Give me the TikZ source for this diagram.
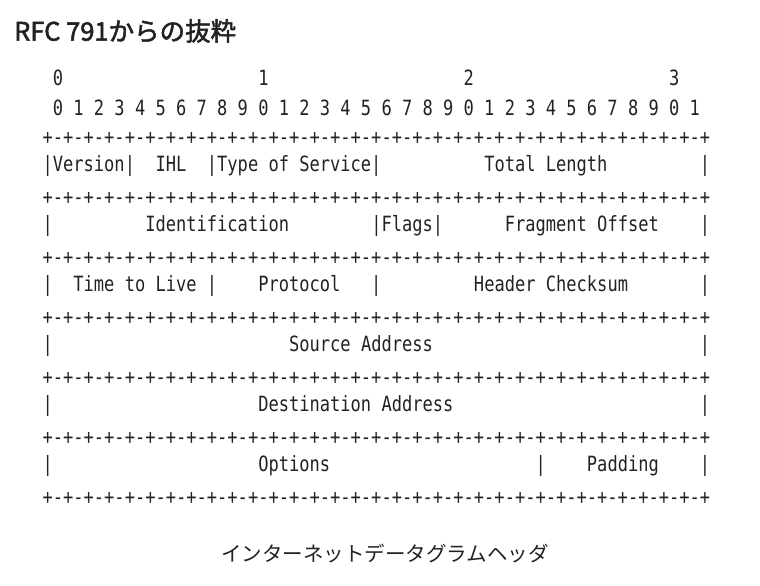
\documentclass[tikz,border=0pt]{standalone}
\usepackage{fontspec}
\usepackage{tikz}
\usetikzlibrary{positioning}
\setmainfont{Noto Sans CJK JP}
\newfontfamily\titlefont[FakeBold=2]{Noto Sans CJK JP}
\newfontfamily\asciimono[FakeStretch=0.8124]{DejaVu Sans Mono}
\definecolor{rfcink}{HTML}{222222}
\newcommand\monotext{\asciimono\fontsize{21pt}{21pt}\selectfont\spaceskip=\fontcharwd\font`\0\relax}
\newcommand\gap[1]{\hspace*{#1\fontcharwd\font`\0}}
\newcommand\plusline{+-+-+-+-+-+-+-+-+-+-+-+-+-+-+-+-+-+-+-+-+-+-+-+-+-+-+-+-+-+-+-+-+}

\begin{document}
\begin{tikzpicture}[
    x=1pt, y=-1pt,
    asciirow/.style={anchor=base west, inner sep=0pt, text=rfcink, font=\monotext},
    borderrow/.style={asciirow, anchor=west},
]
\useasboundingbox (0,0) rectangle (760,586);

\node[anchor=west, inner sep=0pt, text=rfcink, font=\titlefont\fontsize{25.5pt}{25.5pt}\selectfont] (title) at (14,31) {RFC 791からの抜粋};

\node[asciirow] (bitsten) at (42.4,85) {\gap{1}0\gap{19}1\gap{19}2\gap{19}3};
\node[asciirow] (bitsone) at (42.4,115) {\gap{1}0 1 2 3 4 5 6 7 8 9 0 1 2 3 4 5 6 7 8 9 0 1 2 3 4 5 6 7 8 9 0 1};

\node[borderrow] (edge0) at (42.4,138) {\plusline};
\node[asciirow] (word1) at (42.4,171) {|Version|\gap{2}IHL\gap{2}|Type of Service|\gap{10}Total Length\gap{9}|};
\node[borderrow] (edge1) at (42.4,198) {\plusline};
\node[asciirow] (word2) at (42.4,231) {|\gap{9}Identification\gap{8}|Flags|\gap{6}Fragment Offset\gap{4}|};
\node[borderrow] (edge2) at (42.4,258) {\plusline};
\node[asciirow] (word3) at (42.4,291) {|\gap{2}Time to Live\gap{1}|\gap{4}Protocol\gap{3}|\gap{9}Header Checksum\gap{7}|};
\node[borderrow] (edge3) at (42.4,318) {\plusline};
\node[asciirow] (word4) at (42.4,351) {|\gap{23}Source Address\gap{26}|};
\node[borderrow] (edge4) at (42.4,378) {\plusline};
\node[asciirow] (word5) at (42.4,411) {|\gap{20}Destination Address\gap{24}|};
\node[borderrow] (edge5) at (42.4,438) {\plusline};
\node[asciirow] (word6) at (42.4,471) {|\gap{20}Options\gap{20}|\gap{4}Padding\gap{4}|};
\node[borderrow] (edge6) at (42.4,498) {\plusline};

\node[inner sep=0pt, text=rfcink, font=\fontsize{20.5pt}{20.5pt}\selectfont] (caption) at (385,554) {インターネットデータグラムヘッダ};

\end{tikzpicture}
\end{document}
